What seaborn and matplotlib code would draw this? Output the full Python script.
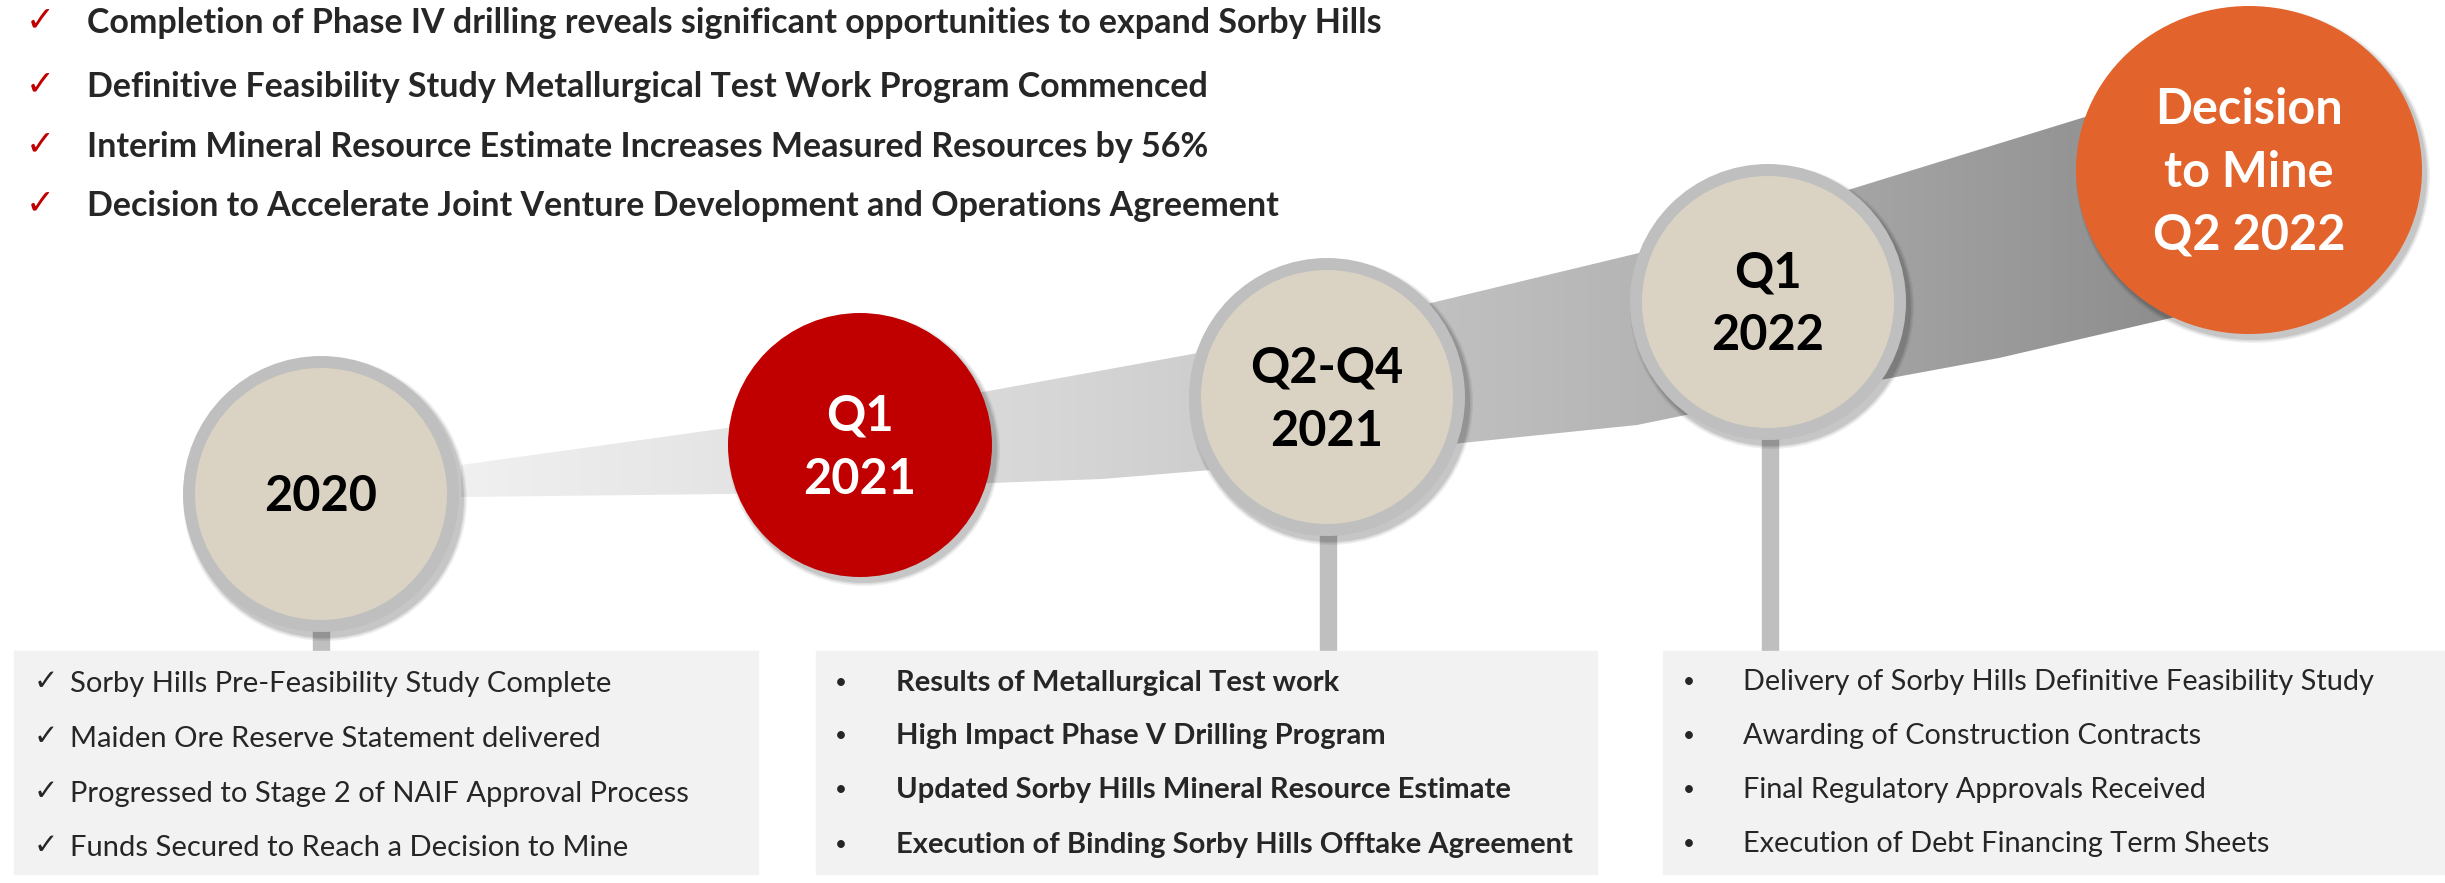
import numpy as np
import matplotlib
matplotlib.use("Agg")
import matplotlib.pyplot as plt
from matplotlib.patches import Ellipse, Rectangle, Polygon
import seaborn as sns

# --- content ---
headlines = [
    "Completion of Phase IV drilling reveals significant opportunities to expand Sorby Hills",
    "Definitive Feasibility Study Metallurgical Test Work Program Commenced",
    "Interim Mineral Resource Estimate Increases Measured Resources by 56%",
    "Decision to Accelerate Joint Venture Development and Operations Agreement",
]
milestones = ["2020", "Q1\n2021", "Q2-Q4\n2021", "Q1\n2022", "Decision\nto Mine\nQ2 2022"]
box_2020 = [
    "Sorby Hills Pre-Feasibility Study Complete",
    "Maiden Ore Reserve Statement delivered",
    "Progressed to Stage 2 of NAIF Approval Process",
    "Funds Secured to Reach a Decision to Mine",
]
box_2021 = [
    "Results of Metallurgical Test work",
    "High Impact Phase V Drilling Program",
    "Updated Sorby Hills Mineral Resource Estimate",
    "Execution of Binding Sorby Hills Offtake Agreement",
]
box_2022 = [
    "Delivery of Sorby Hills Definitive Feasibility Study",
    "Awarding of Construction Contracts",
    "Final Regulatory Approvals Received",
    "Execution of Debt Financing Term Sheets",
]

# --- layout (pixel coords) ---
W, H = 2445, 883
circle_x = [321, 860, 1327, 1768, 2249]
circle_y = [494, 445, 397, 302, 170]
circle_w = [276, 264, 276, 276, 346]
circle_h = [276, 264, 278, 276, 328]
circle_fill = ["#dad3c3", "#c00000", "#dad3c3", "#dad3c3", "#e3632c"]
circle_ring = [True, False, True, True, False]
text_color = ["black", "white", "black", "black", "white"]

ribbon_top_x = [461, 727, 983, 1198, 1431, 1639, 1848, 2085, 2200]
ribbon_top_y = [465, 428, 392, 353, 303, 253, 190, 117, 90]
ribbon_bot_x = [461, 727, 990, 1102, 1211, 1462, 1637, 1686, 1880, 1999, 2171, 2250]
ribbon_bot_y = [497, 494, 483, 479, 470, 443, 425, 415, 380, 358, 318, 300]

sns.set_theme(style="white")
plt.rcParams["font.family"] = ["Lato", "DejaVu Sans"]

fig = plt.figure(figsize=(W / 100, H / 100), dpi=100)
ax = fig.add_axes([0, 0, 1, 1])
ax.set_xlim(0, W)
ax.set_ylim(H, 0)
ax.axis("off")

# ribbon with left-to-right gradient
poly = Polygon(list(zip(ribbon_top_x, ribbon_top_y)) +
               list(zip(ribbon_bot_x[::-1], ribbon_bot_y[::-1])),
               closed=True, facecolor="none", edgecolor="none")
ax.add_patch(poly)
grad = np.linspace(0, 1, 256).reshape(1, -1)
cmap = matplotlib.colors.LinearSegmentedColormap.from_list("rib", ["#f0f0f0", "#d6d6d6", "#b4b4b4", "#888888"])
im = ax.imshow(grad, extent=[461, 2250, H, 0], cmap=cmap, aspect="auto", zorder=1)
im.set_clip_path(poly)
ax.set_xlim(0, W)
ax.set_ylim(H, 0)

# stems
stem_x = [321, 1328, 1770]
stem_top = [600, 520, 420]
for sx, st in zip(stem_x, stem_top):
    ax.add_patch(Rectangle((sx - 8, st), 16, 652 - st, color="#bfbfbf", zorder=2))

# boxes
box_x0 = [14, 816, 1663]
box_x1 = [758, 1597, 2445]
for x0, x1 in zip(box_x0, box_x1):
    ax.add_patch(Rectangle((x0, 651), x1 - x0, 223, color="#f2f2f2", zorder=2))

# circles with soft shadow
for i, lab in enumerate(milestones):
    cx, cy, w, h = circle_x[i], circle_y[i], circle_w[i], circle_h[i]
    for k, a in zip([8, 5, 2], [0.06, 0.08, 0.10]):
        ax.add_patch(Ellipse((cx + 4, cy + 5), w + k, h + k, color="black", alpha=a, lw=0, zorder=3))
    if circle_ring[i]:
        ax.add_patch(Ellipse((cx, cy), w, h, color="#bfbfbf", lw=0, zorder=4))
        ax.add_patch(Ellipse((cx, cy), w - 24, h - 24, color=circle_fill[i], lw=0, zorder=4))
    else:
        ax.add_patch(Ellipse((cx, cy), w, h, color=circle_fill[i], lw=0, zorder=4))
    lines = lab.split("\n")
    n = len(lines)
    for j, ln in enumerate(lines):
        yc = cy + (j - (n - 1) / 2) * 63
        ax.text(cx, yc + 17, ln, ha="center", va="baseline", fontsize=35,
                fontweight="bold", color=text_color[i], zorder=5)

# headlines
head_base = [33, 97, 157, 216]
for t, yb in zip(headlines, head_base):
    ax.text(26, yb - 3, "\u2713", ha="left", va="baseline", fontsize=25,
            color="#c00000", family=["DejaVu Sans"], zorder=5)
    ax.text(87, yb, t, ha="left", va="baseline", fontsize=24.5, fontweight="bold", zorder=5)

# box texts
b1_base = [692, 747, 802, 856]
for t, yb in zip(box_2020, b1_base):
    ax.text(34, yb - 2, "\u2713", ha="left", va="baseline", fontsize=21, family=["DejaVu Sans"], zorder=5)
    ax.text(70, yb, t, ha="left", va="baseline", fontsize=21, zorder=5)

b2_base = [691, 744, 798, 853]
for t, yb in zip(box_2021, b2_base):
    ax.text(841, yb - 2, "\u2022", ha="center", va="baseline", fontsize=15, zorder=5)
    ax.text(896, yb, t, ha="left", va="baseline", fontsize=21, fontweight="bold", zorder=5)

b3_base = [690, 744, 798, 852]
for t, yb in zip(box_2022, b3_base):
    ax.text(1689, yb - 2, "\u2022", ha="center", va="baseline", fontsize=15, zorder=5)
    ax.text(1743, yb, t, ha="left", va="baseline", fontsize=20.8, zorder=5)

fig.savefig("out.png", dpi=100)
